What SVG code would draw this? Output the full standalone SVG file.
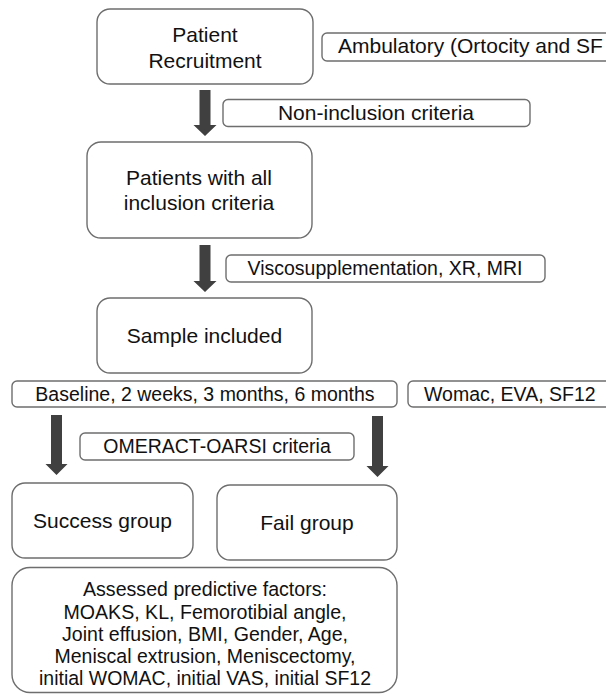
<svg xmlns="http://www.w3.org/2000/svg" width="606" height="694" viewBox="0 0 606 694">
<style>
.box{fill:#fff;stroke:#6e6e6e;stroke-width:1.4}
.t{font-family:"Liberation Sans",Arial,sans-serif;fill:#111;text-anchor:middle}
.l{font-size:21px}
.s{font-size:19.5px}
.f{font-size:20.5px}
.arr{fill:#404040}
</style>
<rect width="606" height="694" fill="#fff"/>
<g id="connectors">
<polygon class="arr" points="199.5,90 210.5,90 210.5,125 216.5,125 205,136 193.5,125 199.5,125"/>
<polygon class="arr" points="199.5,245 210.5,245 210.5,281 216.5,281 205,292 193.5,281 199.5,281"/>
<polygon class="arr" points="51,415 62,415 62,464 67.5,464 56.5,475 45.5,464 51,464"/>
<polygon class="arr" points="372,416 383,416 383,466 388.5,466 377.5,477 366.5,466 372,466"/>
</g>
<g id="patient-recruitment">
<rect class="box" x="97" y="9" width="216" height="75" rx="13"/>
<text class="t l" x="205" y="42">Patient</text>
<text class="t l" x="205" y="68">Recruitment</text>
</g>
<g id="ambulatory">
<rect class="box" x="322" y="33" width="300" height="28" rx="5"/>
<text class="t l" x="338" y="53" style="text-anchor:start">Ambulatory (Ortocity and SF</text>
</g>
<g id="non-inclusion">
<rect class="box" x="223" y="99.5" width="307" height="27" rx="5"/>
<text class="t l" x="376" y="120">Non-inclusion criteria</text>
</g>
<g id="inclusion">
<rect class="box" x="87" y="142" width="225" height="96" rx="14"/>
<text class="t l" x="199" y="185">Patients with all</text>
<text class="t l" x="199" y="210">inclusion criteria</text>
</g>
<g id="visco">
<rect class="box" x="226" y="255" width="319" height="27" rx="5"/>
<text class="t s" x="385" y="275">Viscosupplementation, XR, MRI</text>
</g>
<g id="sample">
<rect class="box" x="97" y="298" width="215" height="75" rx="13"/>
<text class="t l" x="204.5" y="343">Sample included</text>
</g>
<g id="baseline">
<rect class="box" x="12" y="381" width="385" height="26" rx="5"/>
<text class="t s" x="205" y="401">Baseline, 2 weeks, 3 months, 6 months</text>
</g>
<g id="womac">
<rect class="box" x="408" y="381" width="210" height="26" rx="5"/>
<text class="t s" x="424" y="401" style="text-anchor:start">Womac, EVA, SF12</text>
</g>
<g id="omeract">
<rect class="box" x="80" y="433" width="274" height="27" rx="5"/>
<text class="t s" x="217" y="453">OMERACT-OARSI criteria</text>
</g>
<g id="success">
<rect class="box" x="12" y="483" width="181" height="75" rx="13"/>
<text class="t l" x="102.5" y="528">Success group</text>
</g>
<g id="fail">
<rect class="box" x="217" y="485" width="180" height="75" rx="13"/>
<text class="t l" x="307" y="530">Fail group</text>
</g>
<g id="factors">
<rect class="box" x="12" y="567.5" width="385" height="125" rx="18"/>
<text class="t f" x="205" y="596" textLength="244" lengthAdjust="spacingAndGlyphs">Assessed predictive factors:</text>
<text class="t f" x="205" y="618.5" textLength="283" lengthAdjust="spacingAndGlyphs">MOAKS, KL, Femorotibial angle,</text>
<text class="t f" x="205" y="641" textLength="286" lengthAdjust="spacingAndGlyphs">Joint effusion, BMI, Gender, Age,</text>
<text class="t f" x="205" y="663" textLength="301" lengthAdjust="spacingAndGlyphs">Meniscal extrusion, Meniscectomy,</text>
<text class="t f" x="205" y="685" textLength="332" lengthAdjust="spacingAndGlyphs">initial WOMAC, initial VAS, initial SF12</text>
</g>
</svg>
